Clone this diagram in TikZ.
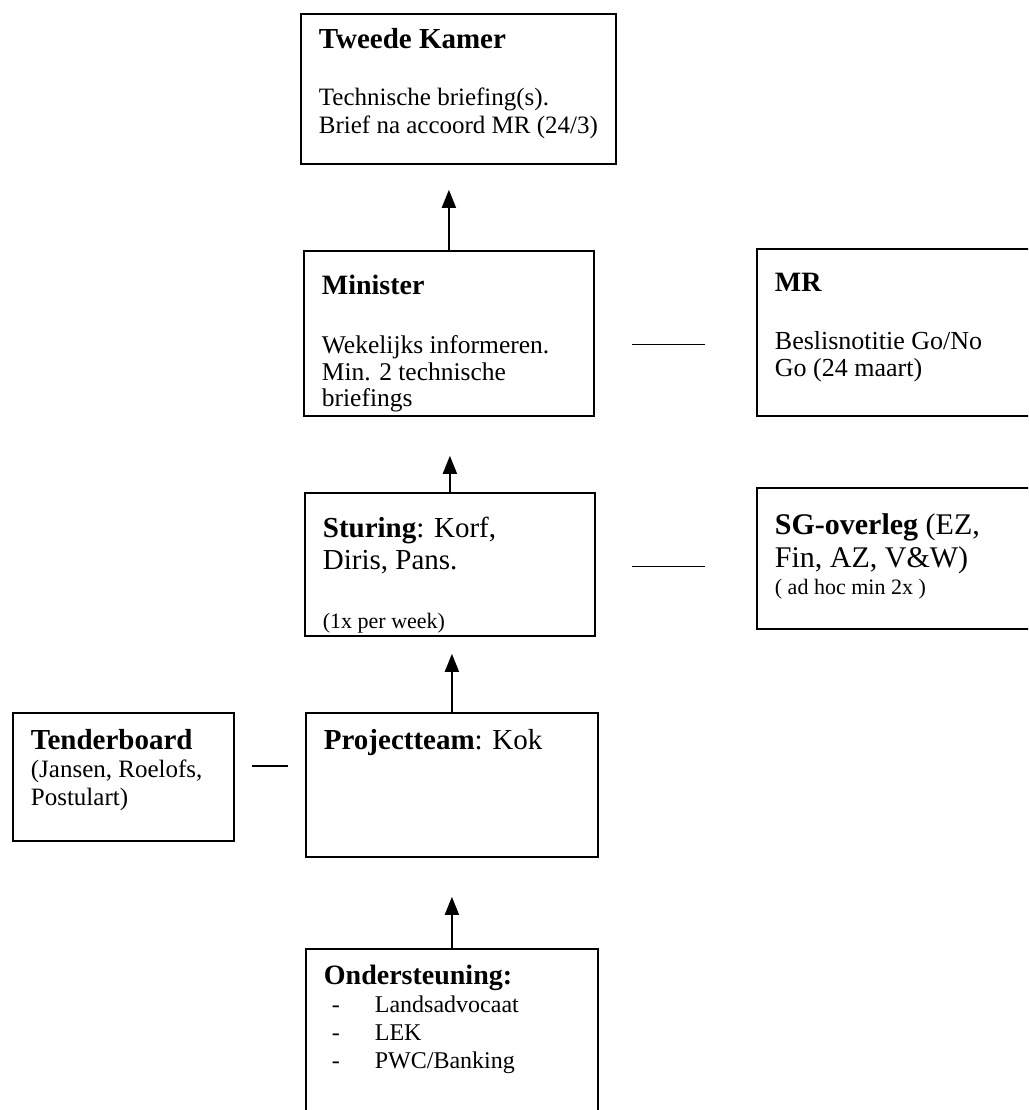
\documentclass[tikz,border=0pt]{standalone}
\usepackage{fontspec}
\setmainfont{Liberation Serif}
\usetikzlibrary{positioning, arrows.meta}

\newcommand{\headfont}{\fontsize{28}{32}\selectfont\bfseries}
\newcommand{\bodyfont}{\fontsize{25}{28}\selectfont}
\newcommand{\smallfont}{\fontsize{22}{27}\selectfont}
\newcommand{\orgtext}[3]{\parbox[c][#2][t]{#1}{\raggedright#3}}
\newcommand{\dashitem}[1]{\hspace*{8pt}\makebox[43pt][l]{-}#1\\}

\tikzset{
  orgbox/.style={draw, line width=1.8pt, anchor=north west, inner xsep=18pt, inner ysep=0pt},
  stub/.style={line width=1.8pt},
  upline/.style={-{Triangle[width=14pt,length=18pt]}, line width=1.8pt},
}

\begin{document}
\begin{tikzpicture}[x=1pt, y=-1pt]
   \useasboundingbox (0,0) rectangle (1028,1110);
   \clip (0,0) rectangle (1028,1110);
   \fill[white] (0,0) rectangle (1028,1110);

   % centre column
   \node[orgbox] (kamer) at (300,13) {\orgtext{279pt}{150pt}{\vspace*{14pt}%
      {\fontsize{29}{32}\selectfont\bfseries Tweede Kamer\par}\vspace{29pt}
      \bodyfont Technische briefing(s).\\Brief na accoord MR (24/3)}};
   \node[orgbox] (minister) at (303,250) {\orgtext{254pt}{165pt}{\vspace*{24pt}%
      {\headfont Minister\par}\vspace{33pt}
      {\fontsize{25.5}{26.5}\selectfont Wekelijks informeren.\\Min. 2 technische\\briefings\par}}};
   \node[orgbox] (sturing) at (304,492) {\orgtext{254pt}{143pt}{\vspace*{24pt}%
      {\fontsize{29}{32}\selectfont\textbf{Sturing}: Korf,\\Diris, Pans.\par}
      \vfill{\smallfont (1x per week)\par}\vspace*{3pt}}};
   \node[orgbox] (project) at (305,712) {\orgtext{256pt}{144pt}{\vspace*{16pt}%
      {\fontsize{29}{32}\selectfont\textbf{Projectteam}: Kok\par}}};
   \node[orgbox] (onder) at (305,948) {\orgtext{256pt}{180pt}{\vspace*{16pt}%
      {\headfont Ondersteuning:\par}
      {\fontsize{24}{28}\selectfont\dashitem{Landsadvocaat}\dashitem{LEK}\dashitem{PWC/Banking}}}};

   % side boxes
   \node[orgbox] (mr) at (756,248) {\orgtext{248pt}{167pt}{\vspace*{24pt}%
      {\headfont MR\par}\vspace{31pt}
      {\fontsize{26}{27}\selectfont Beslisnotitie Go/No\\Go (24 maart)\par}}};
   \node[orgbox] (sg) at (756,487) {\orgtext{248pt}{141pt}{\vspace*{26pt}%
      {\fontsize{30}{33}\selectfont\textbf{SG-overleg} (EZ,\\Fin, AZ, V\&W)\par}
      \smallfont ( ad hoc min 2x )}};
   \node[orgbox] (tender) at (12,712) {\orgtext{185pt}{128pt}{\vspace*{16pt}%
      {\fontsize{29}{32}\selectfont\bfseries Tenderboard\par}
      \bodyfont (Jansen, Roelofs,\\Postulart)}};

   % arrows upwards
   \draw[upline, shorten >=25pt] (minister.north) -- (minister.north |- kamer.south);
   \draw[upline, shorten >=39pt] (sturing.north) -- (sturing.north |- minister.south);
   \draw[upline, shorten >=17pt] (project.north) -- (project.north |- sturing.south);
   \draw[upline, shorten >=39pt] (onder.north) -- (onder.north |- project.south);

   % side links
   \draw[stub, shorten <=37pt, shorten >=51pt] ([yshift=-11pt]minister.east) -- ([yshift=-12pt]mr.west);
   \draw[stub, shorten <=36pt, shorten >=51pt] ([yshift=-2pt]sturing.east) -- ([yshift=-8pt]sg.west);
   \draw[stub, shorten <=17pt, shorten >=17pt] ([yshift=11pt]tender.east) -- ([yshift=19pt]project.west);
\end{tikzpicture}
\end{document}
